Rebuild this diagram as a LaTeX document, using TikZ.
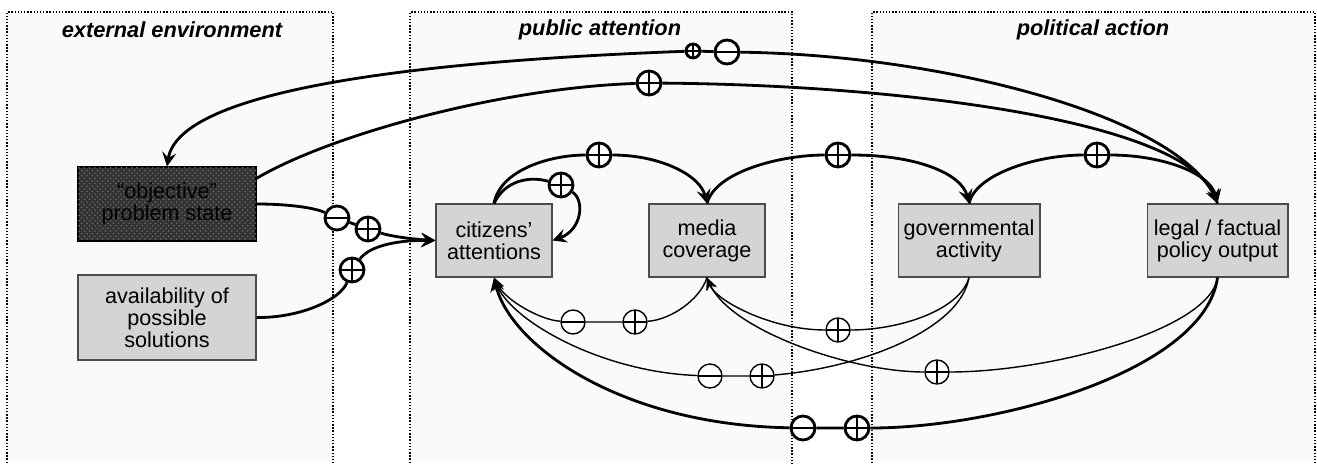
\documentclass[tikz,border=0pt]{standalone}
\usepackage{fontspec}
\setmainfont{Liberation Sans}
\usetikzlibrary{arrows.meta,patterns}
\definecolor{boxgray}{gray}{0.83}
\definecolor{stategray}{gray}{0.20}
\definecolor{dotgray}{gray}{0.42}
\definecolor{panelgray}{gray}{0.98}

\tikzset{
  panel/.style={draw, densely dotted, line width=0.8pt},
  paneltitle/.style={font=\fontsize{12.4pt}{13pt}\selectfont\bfseries\itshape},
  stagebox/.style={draw=black!70, line width=0.6pt, fill=boxgray, align=center, inner sep=2pt},
  markcircle/.style={circle, draw, fill=white, inner sep=0pt, minimum size=0.48cm},
  plussign/.style={markcircle, path picture={
      \draw (path picture bounding box.north) -- (path picture bounding box.south)
            (path picture bounding box.west) -- (path picture bounding box.east);}},
  minussign/.style={markcircle, path picture={
      \draw (path picture bounding box.west) -- (path picture bounding box.east);}},
  heavy/.style={line width=1.6pt},
  light/.style={line width=0.8pt},
  heavyarrow/.style={heavy, -{Stealth[length=8pt, width=8pt, inset=3pt]}},
  lightarrow/.style={light, -{Stealth[length=7pt, width=6pt, inset=2.5pt]}},
}

\begin{document}
\begin{tikzpicture}[x=0.02cm, y=-0.02cm, font=\fontsize{12.3pt}{12.6pt}\selectfont]

  \useasboundingbox (0,0) rectangle (1317,463);

  % Three panels, open at the bottom
  \fill[panelgray] (7,12) rectangle (333,463);
  \fill[panelgray] (410,12) rectangle (792,463);
  \fill[panelgray] (872,12) rectangle (1315,463);
  \draw[panel] (7,463) -- (7,12) -- (333,12) -- (333,463);
  \draw[panel] (410,463) -- (410,12) -- (792,12) -- (792,463);
  \draw[panel] (872,463) -- (872,12) -- (1315,12) -- (1315,463);

  \node[paneltitle] (exttitle) at (172,30) {external environment};
  \node[paneltitle] (pubtitle) at (600,30) {public attention};
  \node[paneltitle] (poltitle) at (1093,30) {political action};

  % Boxes
  \node[stagebox, draw=black, fill=stategray, minimum width=3.56cm, minimum height=1.48cm,
        postaction={pattern=crosshatch dots, pattern color=dotgray}]
        (state) at (167,204) {“objective”\\problem state};
  \node[stagebox, minimum width=3.56cm, minimum height=1.70cm] (solutions) at (167,317.5) {availability of\\possible\\solutions};
  \node[stagebox, minimum width=2.32cm, minimum height=1.46cm] (citizens) at (494,240.5) {citizens’\\attentions};
  \node[stagebox, minimum width=2.32cm, minimum height=1.46cm] (media) at (707,240.5) {media\\coverage};
  \node[stagebox, minimum width=2.84cm, minimum height=1.46cm] (govern) at (969,240.5) {governmental\\activity};
  \node[stagebox, minimum width=2.82cm, minimum height=1.46cm] (output) at (1217.5,240.5) {legal / factual\\policy output};

  % Signs on the connectors
  \node[plussign, heavy, minimum size=0.28cm] (topplus) at (693,51) {};
  \node[minussign, heavy] (topminus) at (727,52) {};
  \node[plussign, heavy] (stateplus) at (649,83) {};
  \node[plussign, heavy] (citmedplus) at (599,155) {};
  \node[plussign, heavy] (medgovplus) at (838,155) {};
  \node[plussign, heavy] (govoutplus) at (1097,155) {};
  \node[plussign, heavy] (selfplus) at (561,185) {};
  \node[minussign, heavy] (statecitminus) at (337,218) {};
  \node[plussign, heavy] (statecitplus) at (368,229) {};
  \node[plussign, heavy] (solcitplus) at (352,270) {};
  \node[minussign, light] (medcitminus) at (573,322) {};
  \node[plussign, light] (medcitplus) at (635,322) {};
  \node[minussign, light] (govcitminus) at (710,376) {};
  \node[plussign, light] (govcitplus) at (762,376) {};
  \node[minussign, heavy] (outcitminus) at (803,428) {};
  \node[plussign, heavy] (outcitplus) at (857,428) {};
  \node[plussign, light] (govmedplus) at (838,330) {};
  \node[plussign, light] (outmedplus) at (937,372) {};

  % Feedback from policy output to the problem state
  \draw[heavyarrow] (output.north) .. controls (1190,120) and (950,55) .. (topminus)
        (topminus) -- (topplus)
        (topplus) .. controls (450,60) and (180,85) .. (state.north);
  \draw[heavyarrow] (state.16) .. controls (330,135) and (500,88) .. (stateplus)
        (stateplus) .. controls (900,85) and (1185,120) .. (output.north);

  % Chain along the top
  \draw[heavyarrow] (citizens.north) .. controls (500,170) and (550,155) .. (citmedplus)
        (citmedplus) .. controls (660,155) and (700,175) .. (media.north);
  \draw[heavyarrow] (media.north) .. controls (715,172) and (780,155) .. (medgovplus)
        (medgovplus) .. controls (920,155) and (962,175) .. (govern.north);
  \draw[heavyarrow] (govern.north) .. controls (975,175) and (1035,155) .. (govoutplus)
        (govoutplus) .. controls (1160,155) and (1210,172) .. (output.north);
  \draw[heavyarrow] (citizens.north) .. controls (505,180) and (530,176) .. (selfplus)
        (selfplus) .. controls (585,200) and (582,230) .. (citizens.east);

  % Inputs from the external environment
  \draw[heavyarrow] (state.east) .. controls (290,204) and (315,208) .. (statecitminus)
        (statecitminus) -- (statecitplus)
        (statecitplus) .. controls (390,236) and (410,239) .. (citizens.west);
  \draw[heavyarrow] (solutions.east) .. controls (300,318) and (340,300) .. (solcitplus)
        (solcitplus) .. controls (370,245) and (400,240) .. (citizens.west);

  % Feedback along the bottom
  \draw[lightarrow] (media.south) .. controls (700,300) and (670,320) .. (medcitplus)
        (medcitplus) -- (medcitminus)
        (medcitminus) .. controls (540,320) and (505,300) .. (citizens.south);
  \draw[lightarrow] (govern.south) .. controls (960,330) and (860,368) .. (govcitplus)
        (govcitplus) -- (govcitminus)
        (govcitminus) .. controls (600,372) and (510,320) .. (citizens.south);
  \draw[heavyarrow] (output.south) .. controls (1205,370) and (1000,428) .. (outcitplus)
        (outcitplus) -- (outcitminus)
        (outcitminus) .. controls (620,425) and (510,345) .. (citizens.south);
  \draw[lightarrow] (govern.south) .. controls (960,310) and (900,330) .. (govmedplus)
        (govmedplus) .. controls (770,330) and (715,300) .. (media.south);
  \draw[lightarrow] (output.south) .. controls (1210,330) and (1050,372) .. (outmedplus)
        (outmedplus) .. controls (850,372) and (730,330) .. (media.south);

\end{tikzpicture}
\end{document}
